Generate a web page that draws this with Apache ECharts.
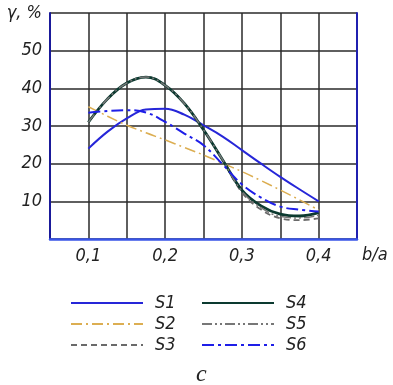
<!DOCTYPE html>
<html>
<head>
<meta charset="utf-8">
<script src="https://cdn.jsdelivr.net/npm/echarts@6/dist/echarts.min.js"></script>
<style>
  html, body { margin: 0; padding: 0; background: #fff; }
  #chart { width: 393px; height: 385px; }
</style>
</head>
<body>
<div id="chart"></div>
<script>
  // b/a values where the curves were read
  const xs = [0.1, 0.125, 0.15, 0.175, 0.2, 0.225, 0.25, 0.275, 0.3, 0.325, 0.35, 0.375, 0.4]
  // γ, % for each series
  const s1 = [24, 28.5, 32, 34.4, 34.6, 33, 30.2, 27.2, 23.6, 20, 16.5, 13.2, 10]
  const s2 = [35.1, 32.6, 30.2, 28.2, 26.3, 24.3, 22.3, 20.1, 17.9, 15.5, 13, 10.4, 7.7]
  const s3 = [31, 37.2, 41.4, 43, 40.8, 36, 29, 21, 12.4, 7.8, 5.5, 5, 5.5]
  const s4 = [31, 37.2, 41.4, 43, 40.8, 36, 29, 21, 13, 8.8, 6.6, 6.1, 7]
  const s5 = [31, 37.2, 41.4, 43, 40.8, 36, 29, 21, 12.7, 8.3, 6, 5.6, 6.3]
  const s6 = [33.5, 34, 34.2, 33.6, 31.1, 28, 24.9, 19.8, 14.5, 11, 8.6, 7.8, 7.3]
  const xTicks = ['0,1', '0,2', '0,3', '0,4']
  const yTicks = ['10', '20', '30', '40', '50', 'γ, %']

  const font = '"DejaVu Sans Condensed", "Liberation Sans Narrow", "DejaVu Sans", sans-serif'
  const pairs = (ys) => xs.map((x, i) => [x, ys[i]])

  const lineSeries = (name, ys, color, width, type) => ({
    name,
    type: 'line',
    smooth: 0.4,
    symbol: 'none',
    data: pairs(ys),
    lineStyle: { color, width, type },
    itemStyle: { color }
  })

  const legendText = {
    color: '#222',
    fontFamily: font,
    fontStyle: 'italic',
    fontSize: 18,
    lineHeight: 16,
    padding: [0, 0, 0, 7]
  }

  const chart = echarts.init(document.getElementById('chart'))
  chart.setOption({
    animation: false,
    grid: { left: 50, right: 36, top: 13, bottom: 146 },
    xAxis: {
      type: 'value',
      min: 0.05,
      max: 0.45,
      interval: 0.05,
      axisLine: { show: true, lineStyle: { color: '#3a55e8', width: 2.5 } },
      axisTick: { show: false },
      splitLine: { show: true, lineStyle: { color: '#2a2a2a', width: 1.5 } },
      axisLabel: {
        margin: 8,
        color: '#222',
        fontFamily: font,
        fontStyle: 'italic',
        fontSize: 18,
        formatter: (v) => {
          const k = Math.round(v * 100)
          return k % 10 === 0 && k >= 10 && k <= 40 ? xTicks[k / 10 - 1] : ''
        }
      }
    },
    yAxis: [
      {
        type: 'value',
        min: 0,
        max: 60,
        interval: 10,
        axisLine: { show: true, lineStyle: { color: '#1a1a9a', width: 2 } },
        axisTick: { show: false },
        splitLine: { show: true, lineStyle: { color: '#2a2a2a', width: 1.5 } },
        axisLabel: {
          margin: 8,
          color: '#222',
          fontFamily: font,
          fontStyle: 'italic',
          fontSize: 18,
          formatter: (v) => (v === 0 ? '' : yTicks[Math.round(v / 10) - 1])
        }
      },
      {
        type: 'value',
        min: 0,
        max: 60,
        interval: 10,
        position: 'right',
        axisLine: { show: true, lineStyle: { color: '#2020b0', width: 2 } },
        axisTick: { show: false },
        axisLabel: { show: false },
        splitLine: { show: false }
      }
    ],
    legend: [
      {
        data: ['S1', 'S2', 'S3'],
        orient: 'vertical',
        left: 65,
        top: 289,
        itemWidth: 72,
        itemHeight: 16,
        itemGap: 3,
        itemStyle: { opacity: 0 },
        textStyle: legendText
      },
      {
        data: ['S4', 'S5', 'S6'],
        orient: 'vertical',
        left: 196,
        top: 289,
        itemWidth: 72,
        itemHeight: 16,
        itemGap: 3,
        itemStyle: { opacity: 0 },
        textStyle: legendText
      }
    ],
    graphic: [
      {
        type: 'text',
        left: 362,
        top: 246,
        style: {
          text: 'b/a',
          fill: '#222',
          font: 'italic 18px ' + font
        }
      },
      {
        type: 'text',
        left: 196,
        top: 363,
        style: {
          text: 'c',
          fill: '#222',
          font: 'italic 24px "Liberation Serif", "DejaVu Serif", serif'
        }
      }
    ],
    series: [
      lineSeries('S1', s1, '#2626d8', 2, 'solid'),
      lineSeries('S2', s2, '#dcae52', 1.5, [11, 4, 2, 4]),
      lineSeries('S3', s3, '#6a6a6a', 1.8, [6, 4]),
      lineSeries('S4', s4, '#0c3a30', 2.8, 'solid'),
      lineSeries('S5', s5, '#777777', 1.5, [10, 3, 2, 3, 2, 3]),
      lineSeries('S6', s6, '#1e1ee8', 2, [12, 4, 3, 4])
    ]
  })
</script>
</body>
</html>
